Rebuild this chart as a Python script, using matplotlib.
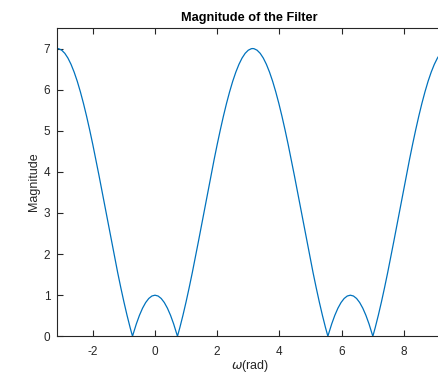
import matplotlib
matplotlib.use("Agg")
import matplotlib.pyplot as plt

omega = [
    -3.1416, -3.1, -3.0, -2.9, -2.8, -2.7, -2.6, -2.5, -2.4, -2.3, -2.2, -2.1,
    -2.0, -1.9, -1.8, -1.7, -1.6, -1.5, -1.4, -1.3, -1.2, -1.1, -1.0, -0.9,
    -0.8, -0.7227, -0.7, -0.6, -0.5, -0.4, -0.3, -0.2, -0.1, 0.0,
    0.1, 0.2, 0.3, 0.4, 0.5, 0.6, 0.7, 0.7227, 0.8, 0.9, 1.0, 1.1, 1.2, 1.3,
    1.4, 1.5, 1.6, 1.7, 1.8, 1.9, 2.0, 2.1, 2.2, 2.3, 2.4, 2.5, 2.6, 2.7, 2.8,
    2.9, 3.0, 3.1, 3.1416,
    3.183, 3.283, 3.383, 3.483, 3.583, 3.683, 3.783, 3.883, 3.983, 4.083,
    4.183, 4.283, 4.383, 4.483, 4.583, 4.683, 4.783, 4.883, 4.983, 5.083,
    5.183, 5.283, 5.383, 5.483, 5.5605, 5.583, 5.683, 5.783, 5.883, 5.983,
    6.083, 6.183, 6.283,
    6.383, 6.483, 6.583, 6.683, 6.783, 6.883, 6.983, 7.0059, 7.083, 7.183,
    7.283, 7.383, 7.483, 7.583, 7.683, 7.783, 7.883, 7.983, 8.083, 8.183,
    8.283, 8.383, 8.483, 8.583, 8.683, 8.783, 8.883, 8.983, 9.083, 9.183, 9.283,
]
magnitude = [
    7.000, 6.997, 6.960, 6.884, 6.769, 6.616, 6.427, 6.205, 5.949, 5.665, 5.354, 5.019,
    4.665, 4.293, 3.909, 3.515, 3.117, 2.717, 2.320, 1.930, 1.550, 1.186, 0.839, 0.514,
    0.213, 0.000, 0.059, 0.301, 0.510, 0.684, 0.821, 0.920, 0.980, 1.000,
    0.980, 0.920, 0.821, 0.684, 0.510, 0.301, 0.059, 0.000, 0.213, 0.514, 0.839, 1.186, 1.550, 1.930,
    2.320, 2.717, 3.117, 3.515, 3.909, 4.293, 4.665, 5.019, 5.354, 5.665, 5.949, 6.205, 6.427, 6.616, 6.769,
    6.884, 6.960, 6.997, 7.000,
    6.997, 6.960, 6.884, 6.769, 6.616, 6.427, 6.205, 5.949, 5.665, 5.354,
    5.019, 4.665, 4.293, 3.909, 3.515, 3.117, 2.717, 2.320, 1.930, 1.550,
    1.186, 0.839, 0.514, 0.213, 0.000, 0.059, 0.301, 0.510, 0.684, 0.821,
    0.920, 0.980, 1.000,
    0.980, 0.920, 0.821, 0.684, 0.510, 0.301, 0.059, 0.000, 0.213, 0.514,
    0.839, 1.186, 1.550, 1.930, 2.320, 2.717, 3.117, 3.515, 3.909, 4.293,
    4.665, 5.019, 5.354, 5.665, 5.949, 6.205, 6.427, 6.616, 6.769, 6.884, 6.960,
]
xticks = [-2, 0, 2, 4, 6, 8]
yticks = [0, 1, 2, 3, 4, 5, 6, 7]

plt.rcParams['font.family'] = ['Liberation Sans', 'DejaVu Sans']
plt.rcParams['axes.unicode_minus'] = False
axcol = '#262626'

W, H = 438, 374
fig = plt.figure(figsize=(W / 100, H / 100), dpi=100)
left, right = 57.3 / W, 442 / W
bottom, top = (H - 336.3) / H, (H - 28) / H
ax = fig.add_axes([left, bottom, right - left, top - bottom])

ax.plot(omega, magnitude, color='#0072BD', lw=0.9)
ax.set_xlim(-3.1416, 9.23)
ax.set_ylim(0, 7.5)
ax.set_xticks(xticks)
ax.set_yticks(yticks)
ax.tick_params(direction='in', top=True, right=False, length=4, width=0.8,
               colors=axcol, labelsize=8.5)
ax.tick_params(axis='x', pad=7)
ax.tick_params(axis='y', pad=5)
for s in ax.spines.values():
    s.set_color(axcol)
    s.set_linewidth(0.8)

ax.set_title('Magnitude of the Filter', fontsize=9.2, fontweight='bold',
             color='black', pad=5)
ax.set_xlabel(r'$\omega$(rad)', fontsize=9, color=axcol, labelpad=0)
ax.set_ylabel('Magnitude', fontsize=9, color=axcol, labelpad=2.5)

fig.savefig('out.png', dpi=100)
